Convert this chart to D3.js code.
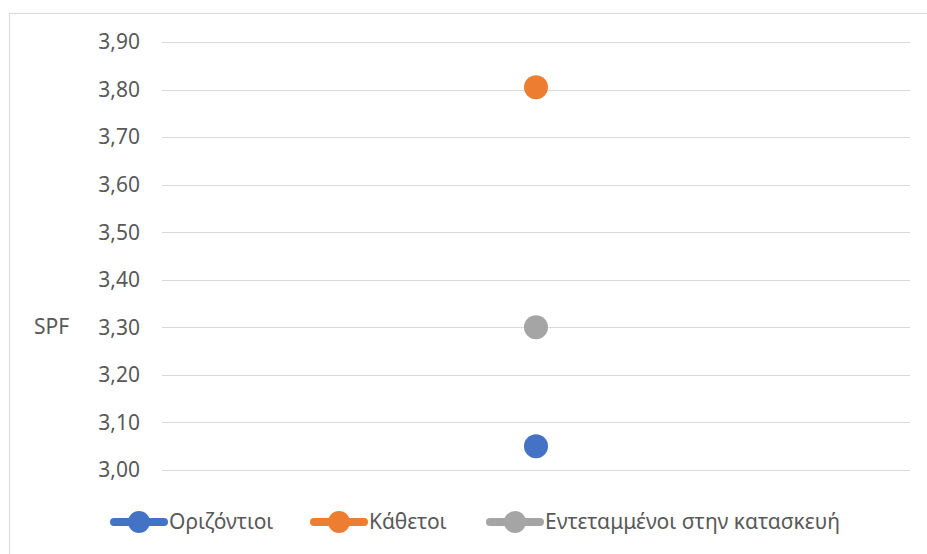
<!DOCTYPE html>
<html>
<head>
<meta charset="utf-8">
<script src="https://cdn.jsdelivr.net/npm/d3@7"></script>
<style>
  html, body { margin: 0; padding: 0; background: #fff; }
  svg { display: block; font-family: "Noto Sans", sans-serif; }
</style>
</head>
<body>
<div id="chart"></div>
<script>
// Chart data
const categories = [''];
const seriesNames = ['Οριζόντιοι', 'Κάθετοι', 'Εντεταμμένοι στην κατασκευή'];
const seriesValues = [3.05, 3.805, 3.30];
const seriesColors = ['#4472c4', '#ed7d31', '#a5a5a5'];
const yTicks = [3.0, 3.1, 3.2, 3.3, 3.4, 3.5, 3.6, 3.7, 3.8, 3.9];
const yLabel = 'SPF';

const width = 927, height = 554;
const margin = { top: 42, right: 17, bottom: 84, left: 162 };
const w = width - margin.left - margin.right;
const h = height - margin.top - margin.bottom;
const fontSize = '21px';

const svg = d3.select('#chart').append('svg')
  .attr('width', width)
  .attr('height', height);

// Chart frame
svg.append('rect')
  .attr('x', 9.5).attr('y', 13.5)
  .attr('width', width + 10).attr('height', height + 10)
  .attr('fill', 'none')
  .attr('stroke', '#d9d9d9');

const g = svg.append('g')
  .attr('transform', `translate(${margin.left},${margin.top})`);

const x = d3.scalePoint().domain(categories).range([0, w]).padding(0.5);
const y = d3.scaleLinear().domain([3.0, 3.9]).range([h, 0]);

// Gridlines
g.selectAll('.grid')
  .data(yTicks)
  .enter()
  .append('line')
  .attr('x1', 0).attr('x2', w)
  .attr('y1', d => Math.round(y(d)) + 0.5)
  .attr('y2', d => Math.round(y(d)) + 0.5)
  .attr('stroke', '#d9d9d9')
  .attr('stroke-width', 1);

// Y axis labels
const fmt = d => d3.format('.2f')(d).replace('.', ',');
g.selectAll('.ytick')
  .data(yTicks)
  .enter()
  .append('text')
  .attr('x', -22)
  .attr('y', d => y(d))
  .attr('dy', '0.35em')
  .attr('text-anchor', 'end')
  .attr('fill', '#595959')
  .attr('font-size', fontSize)
  .text(fmt);

// Axis title
svg.append('text')
  .attr('x', 34)
  .attr('y', 327)
  .attr('dy', '0.35em')
  .attr('fill', '#595959')
  .attr('font-size', fontSize)
  .text(yLabel);

// Points
g.selectAll('.pt')
  .data(seriesValues)
  .enter()
  .append('circle')
  .attr('cx', x(categories[0]))
  .attr('cy', d => y(d))
  .attr('r', 12)
  .attr('fill', (d, i) => seriesColors[i]);

// Legend
const legendX = [110, 310, 486];
const legendY = 522;
const lg = svg.append('g');
seriesNames.forEach((name, i) => {
  const item = lg.append('g').attr('transform', `translate(${legendX[i]},${legendY})`);
  item.append('line')
    .attr('x1', 4).attr('x2', 54)
    .attr('y1', 0).attr('y2', 0)
    .attr('stroke', seriesColors[i])
    .attr('stroke-width', 8)
    .attr('stroke-linecap', 'round');
  item.append('circle')
    .attr('cx', 29).attr('cy', 0).attr('r', 11)
    .attr('fill', seriesColors[i]);
  item.append('text')
    .attr('x', 59)
    .attr('y', 0)
    .attr('dy', '0.35em')
    .attr('fill', '#595959')
    .attr('font-size', fontSize)
    .text(name);
});
</script>
</body>
</html>
